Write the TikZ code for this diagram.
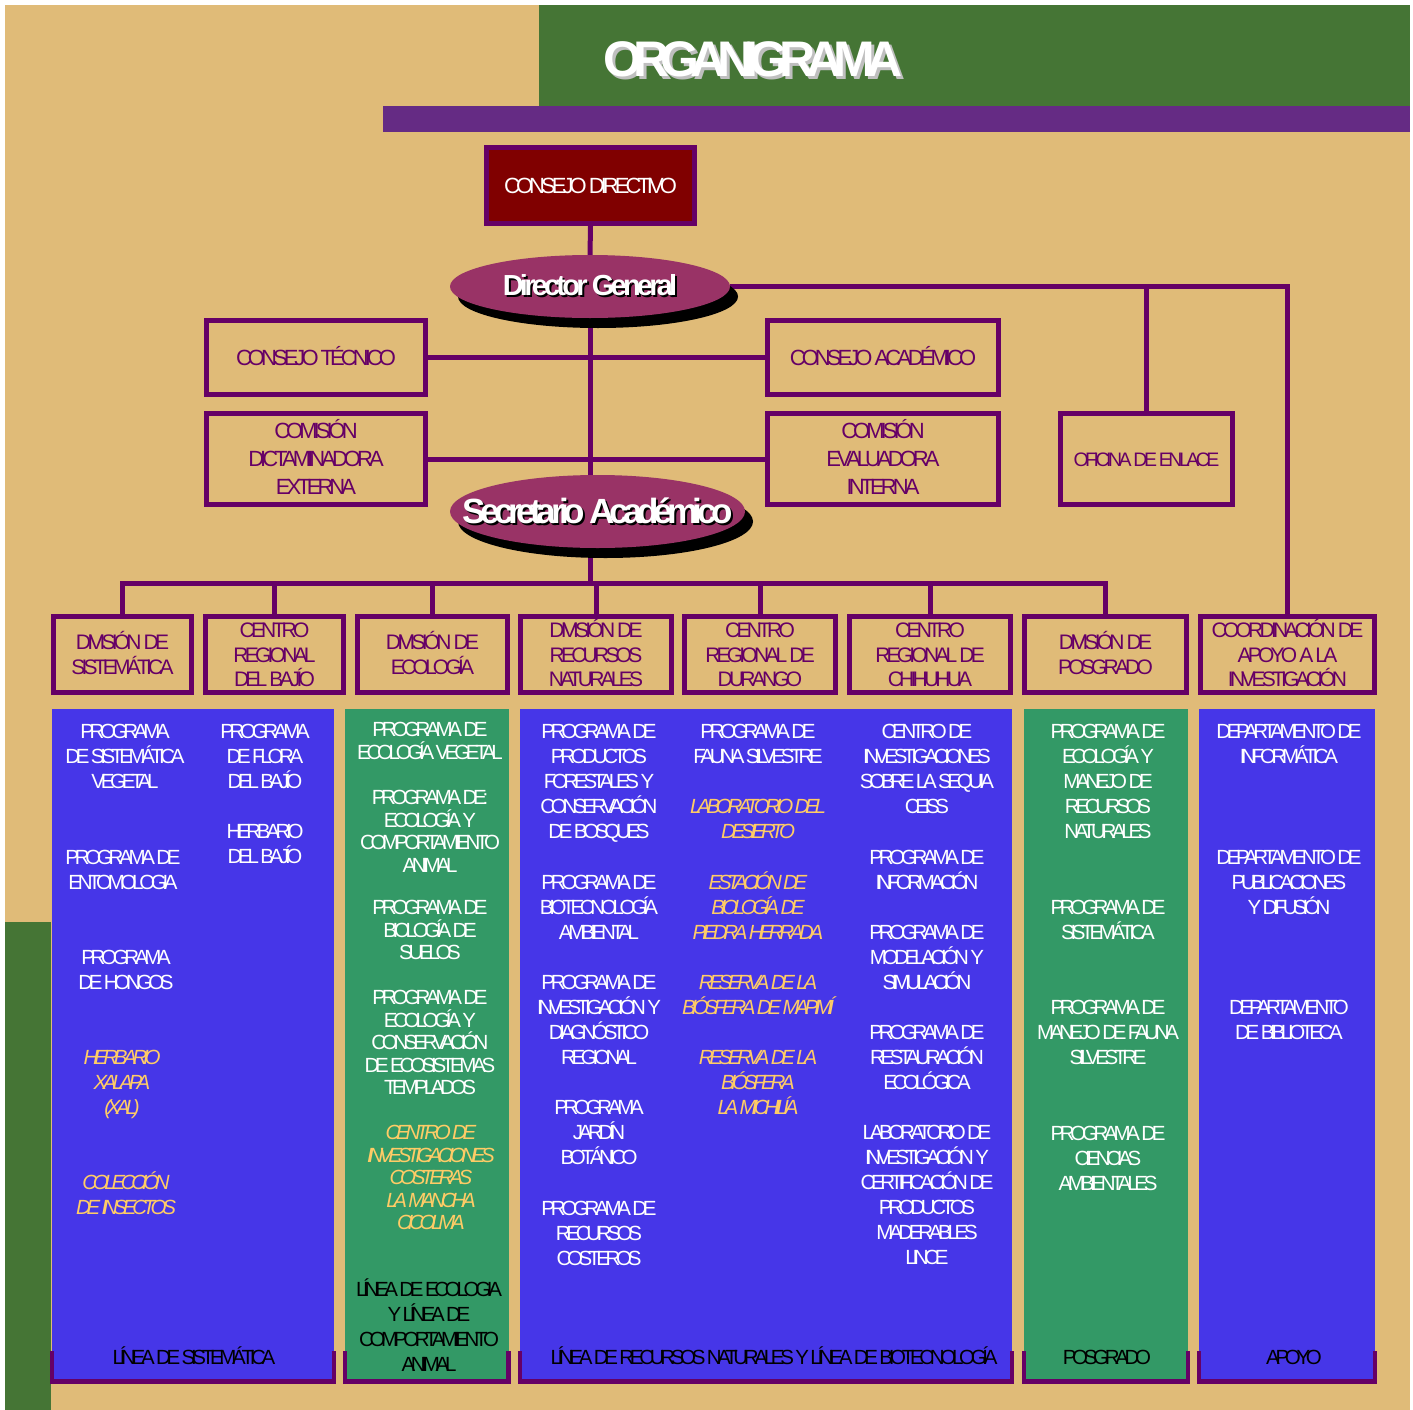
\documentclass[tikz,border=0pt]{standalone}
\usepackage{fontspec}
\setmainfont{Liberation Sans}
\newfontfamily\tf[LetterSpace=-18]{Liberation Sans}
\newfontfamily\tfc[LetterSpace=-21]{Liberation Sans}
\newfontfamily\tfe[LetterSpace=-13]{Liberation Sans}
\newfontfamily\tfs[LetterSpace=-15.5]{Liberation Sans}
\usetikzlibrary{shadows,shapes.geometric}
\definecolor{tanbg}{HTML}{E0BB78}
\definecolor{hdrgreen}{HTML}{457535}
\definecolor{band}{HTML}{652B84}
\definecolor{lnp}{HTML}{660066}
\definecolor{dred}{HTML}{800000}
\definecolor{ell}{HTML}{993366}
\definecolor{colblue}{HTML}{4636E8}
\definecolor{colgreen}{HTML}{339966}
\definecolor{orng}{HTML}{FFCC66}
\pgfdeclarelayer{bg}\pgfdeclarelayer{lines}\pgfsetlayers{bg,lines,main}
\newcommand\ts{\rule{0pt}{21pt}}
\newcommand\dd{\rule[-6pt]{0pt}{6pt}}
\newcommand\shd[3]{\makebox[0pt][l]{\hspace*{#2}\raisebox{-#2}{\textcolor{#1}{#3}}}#3}
\newcommand\tx[5]{\node[#1] (#2) at (#3,#4) {\ts#5};}
\begin{document}
\begin{tikzpicture}[x=1pt,y=-1pt,
  box/.style={draw=lnp, line width=5pt, fill=tanbg, text=lnp, align=center, inner sep=0pt,
    font=\tf\fontsize{22}{28}\selectfont},
  dbox/.style={box, font=\tf\fontsize{21}{24.5}\selectfont, minimum height=76pt},
  conn/.style={draw=lnp, line width=5pt},
  wt/.style={text=white, align=center, inner sep=0pt, anchor=north, yshift=13.7pt,
    font=\tfc\fontsize{20.5}{25}\selectfont},
  wtb/.style={wt, font=\tfc\fontsize{20.5}{22.5}\selectfont},
  ot/.style={wt, text=orng, font=\tfc\itshape\fontsize{20.5}{25}\selectfont},
  otb/.style={wt, text=orng, font=\tfc\itshape\fontsize{20.5}{22.5}\selectfont},
  bt/.style={wt, text=black},
  bracket/.style={draw=lnp, line width=4.5pt, line join=miter},
  oval/.style={ellipse, fill=ell, inner xsep=-45pt, inner ysep=-12pt, text=white,
    drop shadow={shadow xshift=8pt, shadow yshift=-10pt, opacity=1, fill=black}}
]
\useasboundingbox (0,0) rectangle (1413,1410);
\begin{pgfonlayer}{bg}
\fill[white] (0,0) rectangle (1413,1410);
\fill[tanbg] (5,5) rectangle (1410,1410);
\fill[hdrgreen] (539,5) rectangle (1410,106);
\fill[band] (383,106) rectangle (1410,132);
\fill[hdrgreen] (5,922) rectangle (51,1410);
\fill[colblue] (52,709) rectangle (334,1381);
\fill[colgreen] (345,709) rectangle (509,1381);
\fill[colblue] (520,709) rectangle (1012,1381);
\fill[colgreen] (1024,709) rectangle (1188,1381);
\fill[colblue] (1199,709) rectangle (1375,1381);
\draw[bracket] (52,1351) -- (52,1381.5) -- (334,1381.5) -- (334,1351);
\draw[bracket] (345,1351) -- (345,1381.5) -- (508.5,1381.5) -- (508.5,1351);
\draw[bracket] (520,1351) -- (520,1381.5) -- (1012,1381.5) -- (1012,1351);
\draw[bracket] (1024,1351) -- (1024,1381.5) -- (1188,1381.5) -- (1188,1351);
\draw[bracket] (1199,1351) -- (1199,1381.5) -- (1375,1381.5) -- (1375,1351);
\end{pgfonlayer}

% title
\node[text=white, inner sep=0pt, font=\tf\bfseries\fontsize{50}{50}\selectfont] (title) at (753,61)
  {\shd{black!25}{3pt}{ORGANIGRAMA}};

% top boxes
\node[box, fill=dred, text=white, minimum width=208pt, minimum height=76pt] (CD) at (590.5,185.5)
  {\ts CONSEJO DIRECTIVO\dd};
\node[oval, minimum width=280pt, minimum height=63pt,
  font=\tfe\bfseries\fontsize{29}{29}\selectfont] (DG) at (590,286.5) {\shd{black}{2pt}{Director General}};
\node[box, minimum width=219pt, minimum height=74pt] (CT) at (316,357.5) {\ts CONSEJO TÉCNICO\dd};
\node[box, minimum width=219pt, minimum height=91pt] (CDE) at (316,459) {\ts COMISIÓN\\DICTAMINADORA\\EXTERNA\dd};
\node[box, minimum width=231pt, minimum height=74pt] (CA) at (883,357.5) {\ts CONSEJO ACADÉMICO\dd};
\node[box, minimum width=231pt, minimum height=91pt] (CEI) at (883,459) {\ts COMISIÓN\\EVALUADORA\\INTERNA\dd};
\node[box, minimum width=172pt, minimum height=91pt, font=\tf\fontsize{19.5}{24}\selectfont] (OE) at (1146.5,459) {\ts OFICINA DE ENLACE\dd};
\node[oval, minimum width=295pt, minimum height=73pt,
  font=\tfs\bfseries\fontsize{35}{35}\selectfont] (SA) at (597.5,511.5) {\shd{black}{2pt}{Secretario Académico}};

% division boxes
\node[dbox, minimum width=138pt] (D1) at (122.5,654.5) {\ts DIVISIÓN DE\\SISTEMÁTICA\dd};
\node[dbox, minimum width=138pt] (D2) at (274.5,654.5) {\ts CENTRO\\REGIONAL\\DEL BAJÍO\dd};
\node[dbox, minimum width=150pt] (D3) at (432.5,654.5) {\ts DIVISIÓN DE\\ECOLOGÍA\dd};
\node[dbox, minimum width=151pt] (D4) at (596,654.5) {\ts DIVISIÓN DE\\RECURSOS\\NATURALES\dd};
\node[dbox, minimum width=151pt] (D5) at (760,654.5) {\ts CENTRO\\REGIONAL DE\\DURANGO\dd};
\node[dbox, minimum width=161pt] (D6) at (930,654.5) {\ts CENTRO\\REGIONAL DE\\CHIHUHUA\dd};
\node[dbox, minimum width=162pt] (D7) at (1105.5,654.5) {\ts DIVISIÓN DE\\POSGRADO\dd};
\node[dbox, minimum width=174pt] (D8) at (1287.5,654.5) {\ts COORDINACIÓN DE\\APOYO A LA\\INVESTIGACIÓN\dd};
\coordinate (bus) at (590,583);

% connectors
\begin{pgfonlayer}{lines}
\draw[conn] (CD.south) -- (DG.north);
\draw[conn] (DG.south) -- (bus);
\draw[conn] (CT.east) -- (CA.west);
\draw[conn] (CDE.east) -- (CEI.west);
\draw[conn] (DG.east) -| (D8.north);
\draw[conn] (OE.north) -- (OE.north |- DG.east);
\draw[conn] (D1.north) |- (bus) -| (D7.north);
\foreach \n in {D2,D3,D4,D5,D6} \draw[conn] (\n.north) -- (\n.north |- bus);
\end{pgfonlayer}

% column A
\tx{wt}{a1}{125}{731}{PROGRAMA\\DE SISTEMÁTICA\\VEGETAL}
\tx{wt}{a2}{123}{857}{PROGRAMA DE\\ENTOMOLOGIA}
\tx{wt}{a3}{126}{957}{PROGRAMA\\DE HONGOS}
\tx{ot}{a4}{122}{1057}{HERBARIO\\XALAPA\\(XAL)}
\tx{ot}{a5}{126}{1182}{COLECCIÓN\\DE INSECTOS}
\tx{wt}{a6}{265}{731}{PROGRAMA\\DE FLORA\\DEL BAJÍO}
\tx{wt}{a7}{265}{831}{HERBARIO\\DEL BAJÍO}
\tx{bt}{la}{194}{1357}{LÍNEA DE SISTEMÁTICA}
% column B
\tx{wtb}{b1}{430}{729}{PROGRAMA DE\\ECOLOGÍA VEGETAL}
\tx{wtb}{b2}{430}{797}{PROGRAMA DE:\\ECOLOGÍA Y\\COMPORTAMIENTO\\ANIMAL}
\tx{wtb}{b3}{430}{907}{PROGRAMA DE\\BIOLOGÍA DE\\SUELOS}
\tx{wtb}{b4}{430}{997}{PROGRAMA DE\\ECOLOGÍA Y\\CONSERVACIÓN\\DE ECOSISTEMAS\\TEMPLADOS}
\tx{otb}{b5}{431}{1132}{CENTRO DE\\INVESTIGACIONES\\COSTERAS\\LA MANCHA\\CICOLMA}
\tx{bt}{lb}{429}{1289}{LÍNEA DE ECOLOGIA\\Y LÍNEA DE\\COMPORTAMIENTO\\ANIMAL}
% column C
\tx{wt}{c1}{599}{731}{PROGRAMA DE\\PRODUCTOS\\FORESTALES Y\\CONSERVACIÓN\\DE BOSQUES}
\tx{wt}{c2}{599}{882}{PROGRAMA DE\\BIOTECNOLOGÍA\\AMBIENTAL}
\tx{wt}{c3}{599}{982}{PROGRAMA DE\\INVESTIGACIÓN Y\\DIAGNÓSTICO\\REGIONAL}
\tx{wt}{c4}{599}{1107}{PROGRAMA\\JARDÍN\\BOTÁNICO}
\tx{wt}{c5}{599}{1208}{PROGRAMA DE\\RECURSOS\\COSTEROS}
\tx{wt}{c6}{758}{731}{PROGRAMA DE\\FAUNA SILVESTRE}
\tx{ot}{c7}{758}{806}{LABORATORIO DEL\\DESIERTO}
\tx{ot}{c8}{758}{882}{ESTACIÓN DE\\BIOLOGÍA DE\\PIEDRA HERRADA}
\tx{ot}{c9}{758}{982}{RESERVA DE LA\\BIÓSFERA DE MAPIMÍ}
\tx{ot}{c10}{758}{1057}{RESERVA DE LA\\BIÓSFERA\\LA MICHILÍA}
\tx{wt}{c11}{927}{731}{CENTRO DE\\INVESTIGACIONES\\SOBRE LA SEQUIA\\CEISS}
\tx{wt}{c12}{927}{857}{PROGRAMA DE\\INFORMACIÓN}
\tx{wt}{c13}{927}{932}{PROGRAMA DE\\MODELACIÓN Y\\SIMULACIÓN}
\tx{wt}{c14}{927}{1032}{PROGRAMA DE\\RESTAURACIÓN\\ECOLÓGICA}
\tx{wt}{c15}{927}{1132}{LABORATORIO DE\\INVESTIGACIÓN Y\\CERTIFICACIÓN DE\\PRODUCTOS\\MADERABLES\\LINCE}
\tx{bt}{lc}{774}{1357}{LÍNEA DE RECURSOS NATURALES Y LÍNEA DE BIOTECNOLOGÍA}
% column D
\tx{wt}{d1}{1108}{731}{PROGRAMA DE\\ECOLOGÍA Y\\MANEJO DE\\RECURSOS\\NATURALES}
\tx{wt}{d2}{1108}{907}{PROGRAMA DE\\SISTEMÁTICA}
\tx{wt}{d3}{1108}{1007}{PROGRAMA DE\\MANEJO DE FAUNA\\SILVESTRE}
\tx{wt}{d4}{1108}{1133}{PROGRAMA DE\\CIENCIAS\\AMBIENTALES}
\tx{bt}{ld}{1107}{1357}{POSGRADO}
% column E
\tx{wt}{e1}{1289}{731}{DEPARTAMENTO DE\\INFORMÁTICA}
\tx{wt}{e2}{1289}{857}{DEPARTAMENTO DE\\PUBLICACIONES\\Y DIFUSIÓN}
\tx{wt}{e3}{1289}{1007}{DEPARTAMENTO\\DE BIBLIOTECA}
\tx{bt}{le}{1294}{1357}{APOYO}
\end{tikzpicture}
\end{document}
